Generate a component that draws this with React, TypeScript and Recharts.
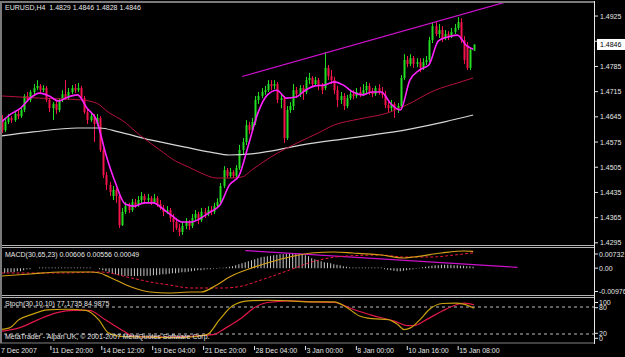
import React from "react"
import { ComposedChart, Bar, Line, XAxis, YAxis, ReferenceLine } from "recharts"

// EURUSD H4, 150 bars (7 Dec 2007 - 16 Jan 2008)
const open = [
  1.4636, 1.4608, 1.4631, 1.4642, 1.4636, 1.4653, 1.4647, 1.4664, 1.4703, 1.4692,
  1.4714, 1.4725, 1.4731, 1.4719, 1.4725, 1.4692, 1.4669, 1.4681, 1.4664, 1.4692,
  1.4708, 1.4697, 1.4714, 1.4725, 1.4719, 1.4725, 1.4697, 1.4658, 1.4636, 1.4647,
  1.4625, 1.4642, 1.4553, 1.4483, 1.4456, 1.4425, 1.4442, 1.4425, 1.4344, 1.4381,
  1.4397, 1.4386, 1.4408, 1.44, 1.4414, 1.4425, 1.4414, 1.4419, 1.4408, 1.4419,
  1.4403, 1.4392, 1.4381, 1.4386, 1.4364, 1.4353, 1.4336, 1.4325, 1.4342, 1.4353,
  1.4342, 1.4364, 1.4375, 1.4358, 1.4381, 1.4375, 1.4386, 1.4381, 1.4397, 1.4408,
  1.4453, 1.4497, 1.4481, 1.4492, 1.4481, 1.4503, 1.4553, 1.4575, 1.4622, 1.4608,
  1.4631, 1.4692, 1.4703, 1.4714, 1.4719, 1.4736, 1.4731, 1.4736, 1.4692, 1.4697,
  1.4586, 1.4664, 1.4675, 1.4719, 1.4708, 1.4725, 1.4714, 1.4747, 1.4753, 1.4736,
  1.4747, 1.4731, 1.4725, 1.4781, 1.4758, 1.4747, 1.4719, 1.4692, 1.4703, 1.4675,
  1.4697, 1.4708, 1.4703, 1.4714, 1.4708, 1.4719, 1.4731, 1.4714, 1.4708, 1.4725,
  1.4714, 1.4706, 1.4678, 1.4669, 1.4681, 1.4664, 1.4675, 1.4753, 1.4803, 1.4792,
  1.4808, 1.4792, 1.4797, 1.4781, 1.4797, 1.4803, 1.4858, 1.4897, 1.4875, 1.4886,
  1.4864, 1.4875, 1.4869, 1.4881, 1.4892, 1.4908, 1.4858, 1.4844, 1.4781, 1.4829,
]
const high = [
  1.465, 1.4639, 1.4653, 1.4647, 1.4658, 1.4664, 1.4672, 1.4708, 1.4714, 1.4719,
  1.4736, 1.4747, 1.4736, 1.4733, 1.4731, 1.4697, 1.4686, 1.4689, 1.4697, 1.4719,
  1.4747, 1.4725, 1.4733, 1.4736, 1.4739, 1.4731, 1.4703, 1.4664, 1.4658, 1.4653,
  1.4653, 1.4647, 1.4558, 1.4492, 1.4464, 1.4453, 1.4447, 1.4431, 1.4392, 1.4408,
  1.4406, 1.4417, 1.4417, 1.4425, 1.4436, 1.4431, 1.4431, 1.4425, 1.4431, 1.4425,
  1.4414, 1.44, 1.4397, 1.4392, 1.4375, 1.4364, 1.4347, 1.4353, 1.4364, 1.4358,
  1.4375, 1.4386, 1.4381, 1.4392, 1.4392, 1.4397, 1.4397, 1.4406, 1.4419, 1.4461,
  1.4508, 1.4503, 1.4503, 1.4497, 1.4511, 1.4567, 1.4586, 1.4636, 1.4631, 1.4642,
  1.4703, 1.4714, 1.4725, 1.4731, 1.4747, 1.4747, 1.4747, 1.4742, 1.4708, 1.4703,
  1.4675, 1.4686, 1.4736, 1.4728, 1.4733, 1.4733, 1.4756, 1.4767, 1.4758, 1.4756,
  1.4753, 1.4739, 1.4825, 1.4789, 1.4775, 1.4756, 1.4731, 1.4714, 1.4711, 1.4706,
  1.4719, 1.4719, 1.4725, 1.4728, 1.4736, 1.4742, 1.4739, 1.4725, 1.4731, 1.4736,
  1.4728, 1.4717, 1.4686, 1.4692, 1.4686, 1.4683, 1.4761, 1.4819, 1.4814, 1.4819,
  1.4814, 1.4808, 1.4808, 1.4808, 1.4814, 1.4867, 1.4908, 1.4908, 1.4903, 1.4897,
  1.4886, 1.4883, 1.4892, 1.4903, 1.4922, 1.4919, 1.4869, 1.4853, 1.4836, 1.4846,
]
const low = [
  1.46, 1.4603, 1.4625, 1.4628, 1.4631, 1.4639, 1.4642, 1.4658, 1.4686, 1.4686,
  1.4708, 1.4719, 1.4711, 1.4714, 1.4686, 1.4658, 1.4636, 1.4653, 1.4658, 1.4686,
  1.4692, 1.4692, 1.4708, 1.4711, 1.4714, 1.4692, 1.4653, 1.4625, 1.4631, 1.4575,
  1.4619, 1.4547, 1.4475, 1.4442, 1.4425, 1.4414, 1.4406, 1.4336, 1.4342, 1.4375,
  1.4378, 1.4381, 1.4392, 1.4395, 1.4406, 1.4403, 1.4406, 1.44, 1.4403, 1.4395,
  1.4386, 1.4369, 1.4375, 1.4353, 1.4325, 1.4331, 1.4314, 1.4317, 1.4333, 1.4331,
  1.4336, 1.4358, 1.4347, 1.4353, 1.4364, 1.4369, 1.4372, 1.4375, 1.4392, 1.4403,
  1.4447, 1.4475, 1.4475, 1.4475, 1.4475, 1.4497, 1.4539, 1.4567, 1.4597, 1.4603,
  1.4622, 1.4681, 1.4697, 1.4706, 1.4714, 1.4719, 1.4722, 1.4683, 1.4669, 1.4572,
  1.4581, 1.4656, 1.4664, 1.4697, 1.47, 1.4692, 1.4708, 1.4736, 1.4728, 1.4731,
  1.4719, 1.4708, 1.4719, 1.4747, 1.4736, 1.4708, 1.4672, 1.4681, 1.4664, 1.4669,
  1.4692, 1.4694, 1.4697, 1.47, 1.4703, 1.4711, 1.4706, 1.47, 1.4703, 1.4706,
  1.4697, 1.4669, 1.4658, 1.4661, 1.4642, 1.4656, 1.4664, 1.4747, 1.4783, 1.4786,
  1.4781, 1.4783, 1.4769, 1.4775, 1.4789, 1.4797, 1.485, 1.4869, 1.4864, 1.4853,
  1.4858, 1.4858, 1.4864, 1.4875, 1.4886, 1.485, 1.4792, 1.4775, 1.4775, 1.4828,
]
const close = [
  1.4608, 1.4631, 1.4642, 1.4636, 1.4653, 1.4647, 1.4664, 1.4703, 1.4692, 1.4714,
  1.4725, 1.4731, 1.4719, 1.4725, 1.4692, 1.4669, 1.4681, 1.4664, 1.4692, 1.4708,
  1.4697, 1.4714, 1.4725, 1.4719, 1.4725, 1.4697, 1.4658, 1.4636, 1.4647, 1.4625,
  1.4642, 1.4553, 1.4483, 1.4456, 1.4436, 1.4442, 1.4425, 1.4344, 1.4381, 1.4397,
  1.4386, 1.4408, 1.44, 1.4414, 1.4425, 1.4414, 1.4419, 1.4408, 1.4419, 1.4403,
  1.4392, 1.4381, 1.4386, 1.4364, 1.4353, 1.4336, 1.4325, 1.4342, 1.4353, 1.4342,
  1.4364, 1.4375, 1.4358, 1.4381, 1.4375, 1.4386, 1.4381, 1.4397, 1.4408, 1.4453,
  1.4497, 1.4481, 1.4492, 1.4481, 1.4503, 1.4553, 1.4575, 1.4622, 1.4608, 1.4631,
  1.4692, 1.4703, 1.4714, 1.4719, 1.4736, 1.4731, 1.4736, 1.4692, 1.4697, 1.4586,
  1.4664, 1.4675, 1.4719, 1.4708, 1.4725, 1.4714, 1.4747, 1.4753, 1.4736, 1.4747,
  1.4731, 1.4719, 1.4781, 1.4758, 1.4747, 1.4719, 1.4692, 1.4703, 1.4675, 1.4697,
  1.4708, 1.4703, 1.4714, 1.4708, 1.4719, 1.4731, 1.4714, 1.4708, 1.4725, 1.4714,
  1.4706, 1.4678, 1.4669, 1.4681, 1.4664, 1.4675, 1.4753, 1.4803, 1.4792, 1.4808,
  1.4792, 1.4797, 1.4781, 1.4797, 1.4803, 1.4858, 1.4897, 1.4875, 1.4886, 1.4864,
  1.4875, 1.4869, 1.4881, 1.4892, 1.4908, 1.4858, 1.4803, 1.4781, 1.4831, 1.4846,
]

// moving averages, sampled at these bar indexes
const fastBars = [
  0, 3, 6, 9, 12, 15, 18, 21, 24, 27, 30, 33, 36, 39, 42, 45, 48, 51, 54, 57,
  60, 63, 66, 69, 72, 75, 78, 81, 84, 87, 90, 93, 96, 99, 102, 105, 108, 111, 114, 117,
  120, 123, 126, 129, 132, 135, 138, 141, 144, 147, 149,
]
const fastMa = [
  1.4631, 1.4653, 1.4669, 1.4697, 1.4711, 1.4703, 1.4689, 1.47, 1.4706, 1.4669,
  1.4636, 1.4539, 1.4461, 1.4403, 1.4397, 1.4406, 1.4406, 1.4389, 1.4369, 1.4353,
  1.4353, 1.4364, 1.4381, 1.44, 1.4456, 1.4481, 1.4567, 1.4656, 1.4706, 1.4719,
  1.4697, 1.47, 1.4719, 1.4731, 1.4733, 1.4742, 1.4733, 1.4714, 1.4706, 1.4714,
  1.4714, 1.4681, 1.4664, 1.4747, 1.4775, 1.4789, 1.4856, 1.4867, 1.4872, 1.4842,
  1.4833,
]
const medBars = [0, 12, 25, 30, 34, 38, 44, 50, 55, 59, 63, 68, 72, 76, 79, 85, 94, 100, 105, 113, 122, 128, 137, 144, 149]
const medMa = [
  1.4703, 1.4697, 1.4692, 1.4683, 1.4656, 1.4636, 1.4592, 1.4553, 1.4522, 1.4506,
  1.4489, 1.4475, 1.4475, 1.4478, 1.4497, 1.4533, 1.4575, 1.46, 1.4622, 1.4639,
  1.4656, 1.4678, 1.4719, 1.4739, 1.4753,
]
const slowBars = [0, 10, 24, 31, 37, 47, 58, 66, 72, 79, 85, 95, 110, 129, 140, 149]
const slowMa = [
  1.4592, 1.4603, 1.4614, 1.4614, 1.4603, 1.4581, 1.4561, 1.4547, 1.4539, 1.4542,
  1.455, 1.4567, 1.4586, 1.4611, 1.4631, 1.465,
]
const trendBars = [76, 165]
const trendLine = [1.4757, 1.4978]

// MACD(30,65,23)
const macdBars = [0, 9, 19, 28, 31, 34, 41, 47, 53, 60, 63, 68, 72, 79, 85, 91, 98, 105, 111, 120, 127, 130, 139, 146, 149]
const macdMain = [
  -0.00285, -0.00213, -0.0014, -0.0014, -0.00177, -0.00322, -0.00685, -0.00867, -0.00903, -0.00867,
  -0.00867, -0.00612, -0.00322, 0.00005, 0.00223, 0.00405, 0.0055, 0.00586, 0.0055, 0.00477,
  0.00368, 0.00405, 0.0055, 0.00623, 0.00606,
]
const signalBars = [0, 19, 31, 41, 47, 53, 60, 70, 76, 82, 91, 98, 109, 120, 127, 136, 143, 149]
const macdSignal = [
  -0.00177, -0.00177, -0.0014, -0.00358, -0.00504, -0.00612, -0.00722, -0.00722, -0.00649, -0.00431,
  -0.00068, 0.00223, 0.00441, 0.00477, 0.00405, 0.00405, 0.00477, 0.00556,
]
const macdHist = [
  -0.0018, -0.0018, -0.00145, -0.00145, -0.00145, -0.00109, -0.00109, -0.00073, -0.00036, -0.00036,
  0, 0, 0.0002, 0.0002, 0.0002, 0.0002, 0.0002, 0.0002, 0.0002, 0.0002,
  0.0002, 0.0002, 0.0002, 0.0002, 0.0002, 0.0002, 0.0002, 0.0002, 0.0002, 0,
  0, -0.00036, -0.00073, -0.00109, -0.00145, -0.00182, -0.00218, -0.00254, -0.00272, -0.0029,
  -0.0029, -0.0029, -0.0029, -0.0029, -0.0029, -0.0029, -0.00272, -0.00272, -0.00254, -0.00254,
  -0.00236, -0.00218, -0.00218, -0.002, -0.00182, -0.00182, -0.00163, -0.00145, -0.00145, -0.00127,
  -0.00109, -0.00091, -0.00073, -0.00073, -0.00054, -0.00036, -0.00036, -0.00018, -0.00018, 0.00018,
  0.00018, 0.00036, 0.00054, 0.00073, 0.00109, 0.00145, 0.00182, 0.00218, 0.00254, 0.0029,
  0.00327, 0.00363, 0.00399, 0.00418, 0.00436, 0.00454, 0.00472, 0.0049, 0.00508, 0.00508,
  0.00527, 0.00545, 0.00545, 0.00545, 0.00545, 0.00508, 0.00472, 0.00436, 0.00363, 0.00327,
  0.0029, 0.00254, 0.00218, 0.002, 0.00182, 0.00145, 0.00127, 0.00109, 0.00073, 0.00054,
  0.00036, 0.0002, 0.0002, 0.0002, 0.0002, 0.0002, 0.0002, 0.0002, 0.0002, 0.0002,
  0.0002, -0.00036, -0.00054, -0.00073, -0.00091, -0.00109, -0.00109, -0.00091, -0.00073, -0.00054,
  -0.00036, -0.00018, 0.00018, 0.00036, 0.00054, 0.00073, 0.00091, 0.00109, 0.00109, 0.00127,
  0.00127, 0.00127, 0.00127, 0.00109, 0.00109, 0.00091, 0.00091, 0.00073, 0.00073, 0.00049,
]
const macdTrendBars = [77, 163]
const macdTrend = [0.0064, 0.0003]

// Stoch(30,10,10)
const stochMainBars = [0, 3, 6, 10, 15, 21, 27, 31, 34, 38, 47, 57, 65, 69, 73, 78, 84, 91, 98, 105, 109, 113, 117, 122, 125, 127, 129, 132, 135, 139, 143, 146, 149]
const stochMain = [
  29.8, 33.6, 52, 63.6, 73.4, 75, 72.7, 52, 23, 14.7, 13, 12, 18.5, 52, 82, 93.7, 95,
  93.7, 91.4, 91.4, 78.8, 60, 54, 52, 41, 29.8, 33.6, 52, 75, 87.8, 88.5, 86, 77.1735,
]
const stochSigBars = [0, 6, 12, 18, 23, 28, 33, 39, 42, 53, 67, 71, 76, 80, 84, 91, 98, 105, 111, 117, 124, 128, 130, 134, 139, 143, 146, 149]
const stochSignal = [
  26, 33.6, 52, 67.5, 72.7, 72.7, 52, 26, 14.7, 13.3, 18.5, 33.6, 56, 78.8, 90, 93.7,
  91.4, 90, 75, 61.4, 48.5, 38.8, 38.8, 52, 71, 84, 88.5, 84.9875,
]

const timeTickBars = [0, 16, 32, 48, 64, 80, 96, 112, 128, 144]
const timeLabels = [
  "7 Dec 2007", "11 Dec 20:00", "14 Dec 12:00", "19 Dec 04:00", "21 Dec 20:00",
  "28 Dec 04:00", "3 Jan 00:00", "8 Jan 00:00", "10 Jan 16:00", "15 Jan 08:00",
]
const priceTicks = [1.4295, 1.4365, 1.4435, 1.4505, 1.4575, 1.4645, 1.4715, 1.4785, 1.4855, 1.4925]
const lastPrice = 1.4846

const SLOTS = 188 // bars + empty shift area on the right
const GREEN = "#22dd22"
const RED = "#f2144a"
const TXT = "#e6e6e6"
const FONT = "'Liberation Sans', Arial, sans-serif"
const FS = 7

const rows: any[] = []
for (let i = 0; i < SLOTS; i++) rows.push({ i })
open.forEach((o, i) => {
  Object.assign(rows[i], {
    open: o,
    high: high[i],
    low: low[i],
    close: close[i],
    range: [low[i], high[i]],
    hist: macdHist[i],
  })
})
const put = (bars: number[], vals: number[], key: string) =>
  bars.forEach((b, k) => {
    rows[b][key] = vals[k]
  })
put(fastBars, fastMa, "fast")
put(medBars, medMa, "med")
put(slowBars, slowMa, "slow")
put(trendBars, trendLine, "trend")
put(macdBars, macdMain, "macd")
put(signalBars, macdSignal, "signal")
put(macdTrendBars, macdTrend, "mtrend")
put(stochMainBars, stochMain, "stoch")
put(stochSigBars, stochSignal, "stochSig")

function Candle(props: any) {
  const { x, y, width, height, payload } = props
  if (!payload || payload.open == null || !isFinite(y) || !isFinite(height)) return null
  const top = Math.min(y, y + height)
  const h = Math.abs(height)
  const { open: o, close: c, high: hi, low: lo } = payload
  const span = hi - lo || 1e-9
  const py = (v: number) => top + ((hi - v) / span) * h
  const color = c >= o ? GREEN : RED
  const cx = Math.round(x + width / 2) + 0.5
  const bTop = py(Math.max(o, c))
  const bBot = py(Math.min(o, c))
  return (
    <g>
      <line x1={cx} x2={cx} y1={top} y2={top + h} stroke={color} strokeWidth={1} />
      <rect x={cx - 1} y={bTop} width={2} height={Math.max(1, bBot - bTop)} fill={color} />
    </g>
  )
}

const PriceTick = (props: any) => {
  const { x, y, payload } = props
  const v = payload.value
  if (v === lastPrice) {
    return (
      <g>
        <rect x={x + 2} y={y - 5.5} width={32} height={11} fill="#ffffff" />
        <text x={x + 5} y={y + 2.5} fontSize={FS} fontFamily={FONT} fill="#000000">
          {v.toFixed(4)}
        </text>
      </g>
    )
  }
  return (
    <g>
      <line x1={x} x2={x + 3} y1={y} y2={y} stroke={TXT} />
      <text x={x + 5} y={y + 2.5} fontSize={FS} fontFamily={FONT} fill={TXT}>
        {v.toFixed(4)}
      </text>
    </g>
  )
}

const macdLabels: Record<string, [string, number]> = {
  "0.00732": ["0.00732", 6],
  "0": ["0.00", 0],
  "-0.00976": ["-0.00976", -3.5],
}
const MacdTick = (props: any) => {
  const { x, y, payload } = props
  const [label, dy] = macdLabels[String(payload.value)]
  return (
    <g>
      <line x1={x} x2={x + 3} y1={y + dy} y2={y + dy} stroke={TXT} />
      <text x={x + 4} y={y + dy + 2.5} fontSize={FS} fontFamily={FONT} fill={TXT}>
        {label}
      </text>
    </g>
  )
}

const stochOffsets: Record<number, number> = { 100: 4.5, 80: 0.7, 20: -0.7, 0: -4.7 }
const StochTick = (props: any) => {
  const { x, y, payload } = props
  const dy = stochOffsets[payload.value] ?? 0
  return (
    <g>
      <line x1={x} x2={x + 3} y1={y + dy} y2={y + dy} stroke={TXT} />
      <text x={x + 4} y={y + dy + 2.5} fontSize={FS} fontFamily={FONT} fill={TXT}>
        {payload.value}
      </text>
    </g>
  )
}

const TimeTick = (props: any) => {
  const { x, y, payload } = props
  const idx = timeTickBars.indexOf(payload.value)
  return (
    <g>
      {idx > 0 && <line x1={x} x2={x} y1={y + 3} y2={y + 7} stroke={TXT} />}
      <text x={x + 1} y={y + 10} fontSize={FS} fontFamily={FONT} fill={TXT}>
        {timeLabels[idx]}
      </text>
    </g>
  )
}

const txt = (top: number, s: string) => (
  <div
    style={{
      position: "absolute",
      left: 5,
      top,
      fontSize: FS,
      lineHeight: "8px",
      fontFamily: FONT,
      color: TXT,
      whiteSpace: "pre",
    }}
  >
    {s}
  </div>
)

const hline = (top: number, color: string, h = 1) => (
  <div style={{ position: "absolute", left: 0, top, width: 595, height: h, background: color }} />
)

export default function App() {
  return (
    <div
      style={{
        position: "absolute",
        left: 0,
        top: 0,
        width: 625,
        height: 357,
        background: "#000",
        overflow: "hidden",
      }}
    >
      <style>{`.recharts-surface{overflow:visible}`}</style>

      {/* price pane */}
      <div style={{ position: "absolute", left: 0, top: 2 }}>
        <ComposedChart width={625} height={243} data={rows} margin={{ top: 0, right: 0, bottom: 0, left: 0 }}>
          <XAxis dataKey="i" hide />
          <YAxis
            orientation="right"
            width={30}
            domain={[1.4289, 1.4964]}
            allowDataOverflow
            ticks={[...priceTicks, lastPrice]}
            interval={0}
            axisLine={false}
            tickLine={false}
            tickSize={0}
            tickMargin={0}
            tick={PriceTick}
          />
          <Line dataKey="slow" type="monotone" stroke="#d6d6d6" strokeWidth={1.2} dot={false} connectNulls isAnimationActive={false} />
          <Line dataKey="med" type="monotone" stroke="#b3123f" strokeWidth={1} dot={false} connectNulls isAnimationActive={false} />
          <Line dataKey="trend" type="linear" stroke="#cc11cc" strokeWidth={1.2} dot={false} connectNulls isAnimationActive={false} />
          <Bar dataKey="range" barSize={2} shape={Candle} isAnimationActive={false} />
          <Line dataKey="fast" type="monotone" stroke="#ff22ff" strokeWidth={1.6} dot={false} connectNulls isAnimationActive={false} />
        </ComposedChart>
      </div>

      {/* MACD pane */}
      <div style={{ position: "absolute", left: 0, top: 248 }}>
        <ComposedChart width={625} height={47} data={rows} margin={{ top: 0, right: 0, bottom: 0, left: 0 }}>
          <XAxis dataKey="i" hide />
          <YAxis
            orientation="right"
            width={30}
            domain={[-0.00976, 0.00732]}
            allowDataOverflow
            ticks={[0.00732, 0, -0.00976]}
            interval={0}
            axisLine={false}
            tickLine={false}
            tickSize={0}
            tickMargin={0}
            tick={MacdTick}
          />
          <Bar dataKey="hist" barSize={1} fill="#c8c8c8" isAnimationActive={false} />
          <Line dataKey="mtrend" type="linear" stroke="#cc11cc" strokeWidth={1.2} dot={false} connectNulls isAnimationActive={false} />
          <Line dataKey="signal" type="monotone" stroke="#e8183c" strokeWidth={1} strokeDasharray="3 2" dot={false} connectNulls isAnimationActive={false} />
          <Line dataKey="macd" type="monotone" stroke="#d4a017" strokeWidth={1.2} dot={false} connectNulls isAnimationActive={false} />
        </ComposedChart>
      </div>

      {/* Stochastic pane + time axis */}
      <div style={{ position: "absolute", left: 0, top: 298 }}>
        <ComposedChart width={625} height={59} data={rows} margin={{ top: 0, right: 0, bottom: 0, left: 0 }}>
          <XAxis
            dataKey="i"
            height={14}
            ticks={timeTickBars}
            interval={0}
            axisLine={{ stroke: "#808080" }}
            tickLine={false}
            tickSize={0}
            tickMargin={0}
            tick={TimeTick}
          />
          <YAxis
            orientation="right"
            width={30}
            domain={[0, 100]}
            ticks={[100, 80, 20, 0]}
            interval={0}
            axisLine={false}
            tickLine={false}
            tickSize={0}
            tickMargin={0}
            tick={StochTick}
          />
          <ReferenceLine y={80} stroke="#bdbdbd" strokeDasharray="3 3" />
          <ReferenceLine y={20} stroke="#bdbdbd" strokeDasharray="3 3" />
          <Line dataKey="stochSig" type="monotone" stroke="#e0184a" strokeWidth={1.2} dot={false} connectNulls isAnimationActive={false} />
          <Line dataKey="stoch" type="monotone" stroke="#c9a00e" strokeWidth={1.2} dot={false} connectNulls isAnimationActive={false} />
        </ComposedChart>
      </div>

      {/* window frame */}
      {hline(1, "#7a7a7a", 2)}
      {hline(245, "#b4b4b4")}
      {hline(247, "#b4b4b4")}
      {hline(295, "#b4b4b4")}
      {hline(297, "#b4b4b4")}
      <div style={{ position: "absolute", left: 0, top: 1, width: 2, height: 342, background: "#7a7a7a" }} />
      <div style={{ position: "absolute", left: 594, top: 1, width: 1, height: 343, background: "#e8e8e8" }} />

      {txt(4, "EURUSD,H4  1.4829 1.4846 1.4828 1.4846")}
      {txt(251, "MACD(30,65,23) 0.00606 0.00556 0.00049")}
      {txt(300, "Stoch(30,10,10) 77.1735 84.9875")}
      {txt(333, "MetaTrader - Alpari UK, © 2001-2007 MetaQuotes Software Corp.")}
    </div>
  )
}
